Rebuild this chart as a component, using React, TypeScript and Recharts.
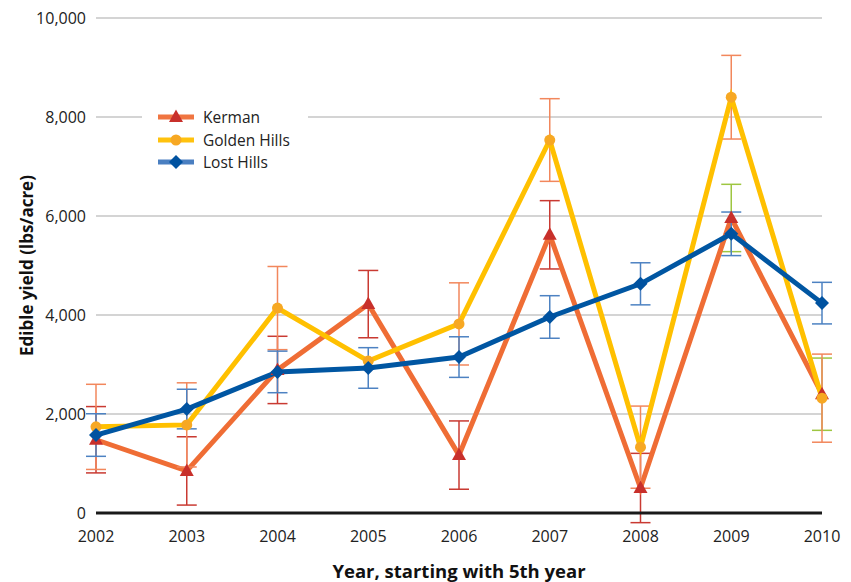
import React from "react"
import {
  LineChart,
  Line,
  XAxis,
  YAxis,
  CartesianGrid,
  ErrorBar,
} from "recharts"

const years = ["2002", "2003", "2004", "2005", "2006", "2007", "2008", "2009", "2010"]

// edible yield, lbs/acre, with +/- error (0 = no bar)
const kerman = [1480, 850, 2890, 4220, 1170, 5620, 505, 5960, 2400]
const kermanErr = [670, 690, 680, 680, 690, 690, 700, 680, 730]
const goldenHills = [1740, 1780, 4140, 3070, 3820, 7535, 1330, 8400, 2320]
const goldenHillsErr = [860, 850, 840, 0, 830, 835, 830, 845, 890]
const lostHills = [1575, 2100, 2850, 2930, 3150, 3960, 4630, 5640, 4240]
const lostHillsErr = [430, 400, 420, 410, 410, 430, 425, 440, 420]

const yTicks = [0, 2000, 4000, 6000, 8000, 10000]

// last two Kerman bars were drawn in a different colour
const kermanLateFrom = 7

const data = years.map((year, i) => ({
  year,
  kerman: kerman[i],
  kermanErr: i < kermanLateFrom ? kermanErr[i] : null,
  kermanErrLate: i >= kermanLateFrom ? kermanErr[i] : null,
  golden: goldenHills[i],
  goldenErr: goldenHillsErr[i] || null,
  lost: lostHills[i],
  lostErr: lostHillsErr[i],
}))

const FONT = "'Open Sans', sans-serif"

const series = [
  { name: "Kerman", line: "#ef6d35", mark: "#c8302b", swatch: "#f07541", shape: "triangle" },
  { name: "Golden Hills", line: "#ffc000", mark: "#f7a823", swatch: "#ffc20e", shape: "circle" },
  { name: "Lost Hills", line: "#0056a2", mark: "#0052a0", swatch: "#4a7fc1", shape: "diamond" },
]

function Marker({ cx, cy, shape, color }: { cx: number; cy: number; shape: string; color: string }) {
  if (shape === "triangle") {
    return <polygon points={`${cx},${cy - 7.5} ${cx - 7},${cy + 5} ${cx + 7},${cy + 5}`} fill={color} />
  }
  if (shape === "diamond") {
    return <polygon points={`${cx},${cy - 7} ${cx + 7},${cy} ${cx},${cy + 7} ${cx - 7},${cy}`} fill={color} />
  }
  return <circle cx={cx} cy={cy} r={5.5} fill={color} />
}

function dotFor(shape: string, color: string) {
  return (props: any) => (
    <Marker key={`${shape}-${props.index}`} cx={props.cx} cy={props.cy} shape={shape} color={color} />
  )
}

// legend sits inside the plot, covering the grid behind it
function LegendBox() {
  return (
    <div
      style={{
        position: "absolute",
        left: 142,
        top: 105,
        width: 166,
        background: "#fff",
        padding: "1px 0 3px 16px",
        boxSizing: "border-box",
        fontFamily: FONT,
        fontSize: 15.5,
        color: "#222",
      }}
    >
      {series.map((s) => (
        <div key={s.name} style={{ display: "flex", alignItems: "center", height: 22.5 }}>
          <svg width={36} height={16} style={{ marginRight: 9 }}>
            <line x1={0} y1={8} x2={36} y2={8} stroke={s.swatch} strokeWidth={5} />
            <Marker cx={18} cy={8} shape={s.shape} color={s.mark} />
          </svg>
          <span>{s.name}</span>
        </div>
      ))}
    </div>
  )
}

export default function App() {
  return (
    <div style={{ position: "absolute", left: 0, top: 0, width: 851, height: 582, background: "#fff" }}>
      <LineChart width={851} height={582} data={data} margin={{ top: 18, right: 29, left: 0, bottom: 0 }}>
        <CartesianGrid vertical={false} stroke="#c6c6c6" strokeWidth={1.5} />
        <XAxis
          dataKey="year"
          height={69}
          tickLine={false}
          axisLine={{ stroke: "#1a1a1a", strokeWidth: 3 }}
          tickMargin={12}
          tick={{ fill: "#222", fontSize: 16, fontFamily: FONT }}
          label={{
            value: "Year, starting with 5th year",
            position: "insideBottom",
            offset: 4,
            style: { fill: "#111", fontSize: 18.5, fontWeight: 700, fontFamily: FONT },
          }}
        />
        <YAxis
          width={96}
          domain={[0, 10000]}
          allowDataOverflow
          ticks={yTicks}
          tickLine={false}
          axisLine={false}
          tickMargin={4}
          tickFormatter={(v) => v.toLocaleString("en-US")}
          tick={{ fill: "#222", fontSize: 16, fontFamily: FONT }}
          label={{
            value: "Edible yield (lbs/acre)",
            angle: -90,
            position: "center",
            dx: -21,
            style: { fill: "#111", fontSize: 17, fontWeight: 700, fontFamily: FONT, textAnchor: "middle" },
          }}
        />
        <Line
          dataKey="kerman"
          name="Kerman"
          stroke={series[0].line}
          strokeWidth={5}
          dot={dotFor("triangle", series[0].mark)}
          activeDot={false}
          isAnimationActive={false}
        >
          <ErrorBar dataKey="kermanErr" width={10} stroke="#c93a32" strokeWidth={1.5} direction="y" />
          <ErrorBar dataKey="kermanErrLate" width={10} stroke="#9ec641" strokeWidth={1.5} direction="y" />
        </Line>
        <Line
          dataKey="golden"
          name="Golden Hills"
          stroke={series[1].line}
          strokeWidth={5}
          dot={dotFor("circle", series[1].mark)}
          activeDot={false}
          isAnimationActive={false}
        >
          <ErrorBar dataKey="goldenErr" width={10} stroke="#f2875c" strokeWidth={1.5} direction="y" />
        </Line>
        <Line
          dataKey="lost"
          name="Lost Hills"
          stroke={series[2].line}
          strokeWidth={5}
          dot={dotFor("diamond", series[2].mark)}
          activeDot={false}
          isAnimationActive={false}
        >
          <ErrorBar dataKey="lostErr" width={10} stroke="#4d82c2" strokeWidth={1.5} direction="y" />
        </Line>
      </LineChart>
      <LegendBox />
    </div>
  )
}
